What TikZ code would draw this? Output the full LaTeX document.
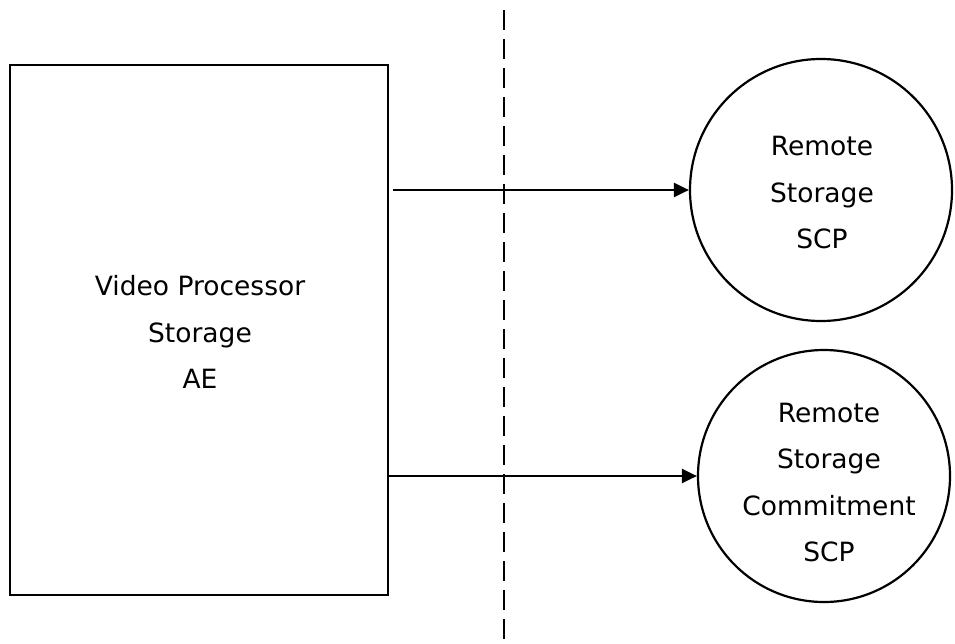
\documentclass[tikz,border=0pt]{standalone}
\usepackage{fontspec}
\setmainfont{DejaVu Sans}
\usetikzlibrary{arrows.meta}
\begin{document}
\begin{tikzpicture}[x=1pt,y=-1pt,
  box/.style={draw,line width=2.2pt,rectangle,inner sep=0pt},
  ring/.style={draw,line width=2.2pt,circle,inner sep=0pt},
  label/.style={align=center,inner sep=0pt,font=\fontsize{26.5}{46.5}\selectfont},
  flow/.style={line width=2.2pt,-{Triangle[length=15pt,width=14pt]}},
  divider/.style={line width=2.2pt,dash pattern=on 20pt off 9pt}]
\useasboundingbox (0,0) rectangle (955,643);
\node[box,minimum width=378pt,minimum height=530pt] (ae) at (199,330) {};
\node[label] (aetext) at (200,332) {Video Processor\\Storage\\AE};
\node[ring,minimum size=262pt] (scp) at (821,190) {};
\node[label] (scptext) at (822,193) {Remote\\Storage\\SCP};
\node[ring,minimum size=252pt] (cmt) at (824,476) {};
\node[label] (cmttext) at (829,482.5) {Remote\\Storage\\Commitment\\SCP};
\coordinate (dtop) at (504,10);
\coordinate (dbot) at (504,643);
\draw[divider] (dtop) -- (dbot);
\coordinate (a1) at (393,190);
\draw[flow] (a1) -- (scp.west);
\draw[flow] (ae.east |- cmt.west) -- (cmt.west);
\end{tikzpicture}
\end{document}
